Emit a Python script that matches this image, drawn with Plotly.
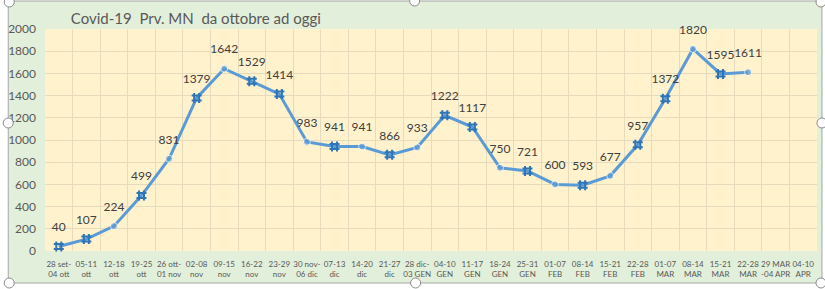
import plotly.graph_objects as go

categories = [
    "28 set-<br>04 ott", "05-11<br>ott", "12-18<br>ott", "19-25<br>ott", "26 ott-<br>01 nov",
    "02-08<br>nov", "09-15<br>nov", "16-22<br>nov", "23-29<br>nov", "30 nov-<br>06 dic",
    "07-13<br>dic", "14-20<br>dic", "21-27<br>dic", "28 dic-<br>03 GEN", "04-10<br>GEN",
    "11-17<br>GEN", "18-24<br>GEN", "25-31<br>GEN", "01-07<br>FEB", "08-14<br>FEB",
    "15-21<br>FEB", "22-28<br>FEB", "01-07<br>MAR", "08-14<br>MAR", "15-21<br>MAR",
    "22-28<br>MAR", "29 MAR<br>-04 APR", "04-10<br>APR",
]
values = [40, 107, 224, 499, 831, 1379, 1642, 1529, 1414, 983, 941, 941, 866, 933,
          1222, 1117, 750, 721, 600, 593, 677, 957, 1372, 1820, 1595, 1611, None, None]
# points drawn with the selection-style marker
selected = [1, 1, 0, 1, 0, 1, 0, 1, 1, 0, 1, 0, 1, 0, 1, 1, 0, 1, 0, 1, 0, 1, 1, 0, 1, 0, 0, 0]

W, H = 825, 289
L, R, T, B = 40, 8, 29, 38
pw, ph = W - L - R, H - T - B

def px_x(p):
    return (p - L) / pw

def px_y(p):
    return (H - B - p) / ph

line_col = "#5b9bd5"
sel_col = "#2e75b6"

labels = [str(v) if v is not None else "" for v in values]
sizes = [0 if s else 7 for s in selected]

fig = go.Figure()
fig.add_trace(go.Scatter(
    x=categories, y=values, mode="lines+markers",
    line=dict(color=line_col, width=3),
    marker=dict(color=line_col, size=sizes),
    cliponaxis=False, showlegend=False,
))
sx = [c for c, s in zip(categories, selected) if s]
sy = [v for v, s in zip(values, selected) if s]
fig.add_trace(go.Scatter(
    x=sx, y=sy, mode="markers",
    marker=dict(symbol="hash-open", size=10, color=sel_col, line=dict(width=2, color=sel_col)),
    cliponaxis=False, showlegend=False,
))
fig.add_trace(go.Scatter(
    x=categories, y=values, mode="markers+text",
    marker=dict(size=18, opacity=0),
    text=labels, textposition="top center",
    textfont=dict(family="Lato", size=12, color="#404040"),
    cliponaxis=False, showlegend=False, hoverinfo="skip",
))

shapes = [
    dict(type="rect", xref="paper", yref="paper", layer="below",
         x0=px_x(3), x1=px_x(822), y0=px_y(283), y1=px_y(1),
         fillcolor="#e2efda", line=dict(color="#a6a6a6", width=1)),
    dict(type="rect", xref="paper", yref="paper", layer="below",
         x0=0, x1=1, y0=0, y1=1, fillcolor="#fff2cc", line=dict(width=0)),
]
for hx, hy in [(4, 2), (412, 1), (821, 2), (3, 123), (822, 123), (4, 283), (413, 283), (821, 283)]:
    shapes.append(dict(type="circle", xref="paper", yref="paper", layer="above",
                       xsizemode="pixel", ysizemode="pixel",
                       xanchor=px_x(hx), yanchor=px_y(hy),
                       x0=-5, x1=5, y0=-5, y1=5,
                       fillcolor="white", line=dict(color="#8c8c8c", width=1)))

fig.update_layout(
    width=W, height=H,
    margin=dict(l=L, r=R, t=T, b=B),
    paper_bgcolor="white", plot_bgcolor="rgba(0,0,0,0)",
    shapes=shapes,
    title=dict(text="Covid-19  Prv. MN  da ottobre ad oggi",
               x=px_x(66), xref="paper", xanchor="left",
               y=1 - 19 / H, yref="container", yanchor="middle",
               font=dict(family="Lato", size=15, color="#595959")),
    xaxis=dict(type="category", range=[-0.5, 27.5], tickson="boundaries",
               showgrid=True, gridcolor="#e6dbbd", gridwidth=1, ticks="",
               tickangle=0, ticklabelstandoff=7,
               tickfont=dict(family="Lato", size=8, color="#595959"),
               showline=False, zeroline=False, fixedrange=True),
    yaxis=dict(range=[0, 2000], dtick=200, showgrid=True, gridcolor="#e6dbbd",
               gridwidth=1, ticks="", zeroline=False, showline=False,
               ticklabelstandoff=8,
               tickfont=dict(family="Lato", size=12, color="#595959")),
)

fig.write_html("out.html")
